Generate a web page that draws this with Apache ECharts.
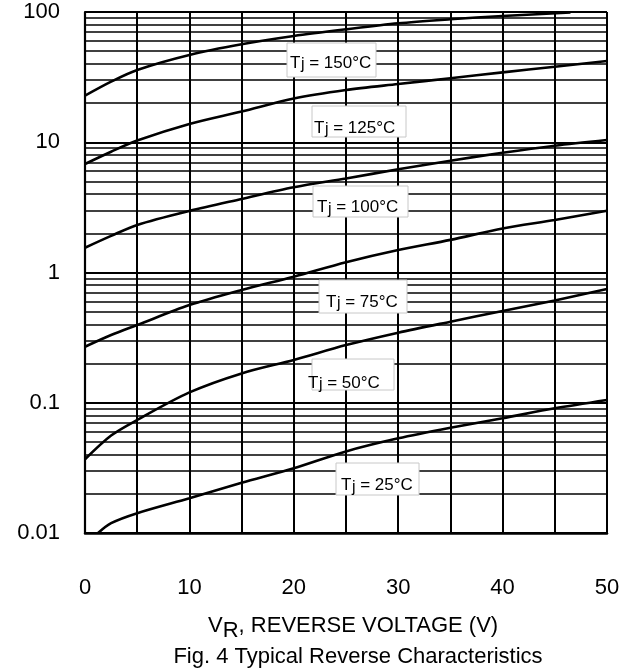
<!DOCTYPE html>
<html><head><meta charset="utf-8">
<script src="https://cdn.jsdelivr.net/npm/echarts@6/dist/echarts.min.js"></script>
<style>html,body{margin:0;padding:0;background:#fff;}#c{width:633px;height:670px;}</style>
</head><body><div id="c"></div>
<script>
// ---- data ----
const xTicks = [0, 10, 20, 30, 40, 50];
const yTicks = [0.01, 0.1, 1, 10, 100];
const vr = [0, 2.5, 5, 10, 15, 20, 25, 30, 35, 40, 45, 50];
const vr150 = [0, 2.5, 5, 10, 15, 20, 25, 30, 35, 40, 46.5];
const ir150 = [22.8, 29.2, 35.9, 46.8, 56.5, 65.4, 73.6, 81.9, 87.9, 93.2, 99];
const ir125 = [6.81, 8.46, 10.3, 13.8, 17.2, 21.7, 25.2, 28.0, 31.0, 34.4, 38.0, 42.1];
const ir100 = [1.55, 1.91, 2.32, 2.97, 3.67, 4.51, 5.27, 6.20, 7.22, 8.31, 9.41, 10.4];
const ir75  = [0.269, 0.331, 0.395, 0.562, 0.734, 0.929, 1.20, 1.49, 1.78, 2.18, 2.53, 2.98];
const ir50  = [0.0368, 0.056, 0.0738, 0.120, 0.168, 0.213, 0.277, 0.345, 0.419, 0.506, 0.610, 0.746];
const vr25  = [1.25, 2.5, 5, 10, 15, 20, 25, 30, 35, 40, 45, 50];
const ir25  = [0.0100, 0.0119, 0.0142, 0.0185, 0.0243, 0.0314, 0.0423, 0.0533, 0.0643, 0.0761, 0.0906, 0.105];
const tjNames = ['150', '125', '100', '75', '50', '25'];
const decades = [0.01, 0.1, 1, 10];
const minorSteps = [2, 3, 4, 5, 6, 7, 8, 9];
const xName = ', REVERSE VOLTAGE (V)';
const caption = 'Fig. 4 Typical Reverse Characteristics';

// ---- build ----
const FONT = '"Liberation Sans", Arial, sans-serif';
const pair = (xs, ys) => ys.map((y, i) => [xs[i], y]);
const curves = [
  pair(vr150, ir150), pair(vr, ir125), pair(vr, ir100),
  pair(vr, ir75), pair(vr, ir50), pair(vr25, ir25)
];
const minorLines = [];
decades.forEach(d => minorSteps.forEach(s => minorLines.push(+(d * s).toPrecision(3))));

const series = curves.map((data, i) => ({
  name: 'Tj = ' + tjNames[i] + '°C',
  type: 'line',
  data: data,
  smooth: 0.3,
  showSymbol: false,
  clip: true,
  lineStyle: { color: '#000', width: 2.6 },
  z: 3,
  markLine: i === 0 ? {
    silent: true,
    symbol: ['none', 'none'],
    label: { show: false },
    lineStyle: { color: '#000', width: 1.6, type: 'solid' },
    emphasis: { disabled: true },
    animation: false,
    data: minorLines.map(v => ({ yAxis: v }))
  } : undefined
}));

// label boxes: [boxX, boxY, boxW, boxH, textX, textCenterY]
const boxGeom = [
  [287, 43, 89, 34, 290, 63],
  [312, 106, 94, 31, 314, 128],
  [313, 186, 95, 31, 317, 207.5],
  [319, 280, 88, 33, 326, 302],
  [312, 359, 82, 31, 308, 383],
  [336, 463, 83, 32, 341, 485.5]
];
const graphics = [];
boxGeom.forEach((g, i) => {
  const [bx, by, bw, bh, tx, ty] = g;
  graphics.push({ type: 'rect', z: 100, shape: { x: bx, y: by, width: bw, height: bh },
    style: { fill: '#fff', stroke: '#c8c8c8', lineWidth: 1 } });
  graphics.push({ type: 'text', z: 101, x: tx, y: ty,
    style: { text: 'T', font: '17px ' + FONT, fill: '#000', align: 'left', verticalAlign: 'middle' } });
  graphics.push({ type: 'text', z: 101, x: tx + 10.9, y: ty + 2,
    style: { text: 'j', font: '16px ' + FONT, fill: '#000', align: 'left', verticalAlign: 'middle' } });
  graphics.push({ type: 'text', z: 101, x: tx + 14.5, y: ty,
    style: { text: ' = ' + tjNames[i] + '°C', font: '17px ' + FONT, fill: '#000', align: 'left', verticalAlign: 'middle' } });
});
// x axis name with subscript R
graphics.push({ type: 'text', z: 101, x: 208, y: 626,
  style: { text: 'V', font: '22px ' + FONT, fill: '#000', align: 'left', verticalAlign: 'middle' } });
graphics.push({ type: 'text', z: 101, x: 222.7, y: 631,
  style: { text: 'R', font: '22px ' + FONT, fill: '#000', align: 'left', verticalAlign: 'middle' } });
graphics.push({ type: 'text', z: 101, x: 238.6, y: 626,
  style: { text: xName, font: '22px ' + FONT, fill: '#000', align: 'left', verticalAlign: 'middle' } });
graphics.push({ type: 'text', z: 101, x: 358, y: 657,
  style: { text: caption, font: '22px ' + FONT, fill: '#000', align: 'center', verticalAlign: 'middle' } });

const chart = echarts.init(document.getElementById('c'), null, { renderer: 'canvas' });
chart.setOption({
  animation: false,
  backgroundColor: '#fff',
  grid: { left: 85, right: 26, top: 12, bottom: 137 },
  xAxis: {
    type: 'value', min: 0, max: 50, interval: 10,
    axisLine: { show: true, onZero: false, lineStyle: { color: '#000', width: 2.5 } },
    axisTick: { show: false },
    axisLabel: { margin: 44, fontSize: 22, color: '#000', fontFamily: FONT,
      formatter: v => xTicks.includes(v) ? String(v) : '' },
    splitLine: { show: true, lineStyle: { color: '#000', width: 2 } },
    minorTick: { show: false, splitNumber: 2 },
    minorSplitLine: { show: true, lineStyle: { color: '#000', width: 2 } }
  },
  yAxis: {
    type: 'log', logBase: 10, min: 0.01, max: 100,
    axisLine: { show: true, lineStyle: { color: '#000', width: 2.2 } },
    axisTick: { show: false },
    axisLabel: { margin: 25, fontSize: 22, color: '#000', fontFamily: FONT,
      formatter: v => {
        const t = yTicks.find(t => Math.abs(Math.log10(t) - Math.log10(v)) < 1e-6);
        return t !== undefined ? String(t) : '';
      } },
    splitLine: { show: true, lineStyle: { color: '#000', width: 2 } }
  },
  series: series,
  graphic: graphics
});
</script>
</body></html>
